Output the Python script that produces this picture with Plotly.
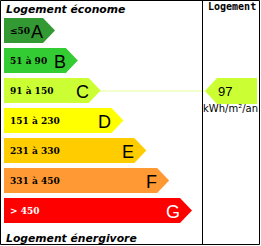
import plotly.graph_objects as go

# ---- data ----
classes = ["A", "B", "C", "D", "E", "F", "G"]
ranges = ["≤50", "51 à 90", "91 à 150", "151 à 230", "231 à 330", "331 à 450", "> 450"]
upper_bounds = [50, 90, 150, 230, 330, 450, None]
colors = ["#339933", "#33cc33", "#ccff33", "#ffff00", "#ffcc00", "#ff9933", "#ff0000"]
text_colors = ["black", "black", "black", "black", "black", "black", "white"]
value = 97
unit = "kWh/m²/an"
title_top = "Logement économe"
title_bottom = "Logement énergivore"
col_title = "Logement"

# ---- layout constants (pixels) ----
W, H = 261, 246
x_left = 4
y_top0 = 18
pitch = 30
bar_h = 25
tip0 = 55
tip_step = 22.83
tip_w = 12
divider_x = 202.5

# class of value
cls_idx = next(i for i, ub in enumerate(upper_bounds) if ub is None or value <= ub)

fig = go.Figure()

for i, (c, r, col, tc) in enumerate(zip(classes, ranges, colors, text_colors)):
    y0 = y_top0 + i * pitch
    y1 = y0 + bar_h
    ym = (y0 + y1) / 2
    tip = tip0 + i * tip_step
    xr = tip - tip_w
    fig.add_trace(go.Scatter(
        x=[x_left, xr, tip, xr, x_left, x_left],
        y=[y0, y0, ym, y1, y1, y0],
        fill="toself", fillcolor=col, line=dict(width=0, color=col),
        mode="lines", hoverinfo="skip", showlegend=False))
    fig.add_annotation(x=x_left + 4, y=ym, text="<b>%s</b>" % r, showarrow=False,
                       xanchor="left", yanchor="middle",
                       font=dict(family="DejaVu Serif", size=9, color=tc))
    fig.add_annotation(x=xr + 2, y=ym + 1, text=c, showarrow=False,
                       xanchor="right", yanchor="middle",
                       font=dict(family="Liberation Sans", size=18, color=tc))

# indicator arrow
iy0 = y_top0 + cls_idx * pitch
iy1 = iy0 + bar_h + 1
iym = (iy0 + iy1) / 2
itip = 205
ir = 257
fig.add_trace(go.Scatter(
    x=[itip, itip + tip_w, ir, ir, itip + tip_w, itip],
    y=[iym, iy0, iy0, iy1, iy1, iym],
    fill="toself", fillcolor=colors[cls_idx], line=dict(width=0, color=colors[cls_idx]),
    mode="lines", hoverinfo="skip", showlegend=False))
fig.add_annotation(x=225, y=iym, text=str(value), showarrow=False,
                   xanchor="center", yanchor="middle",
                   font=dict(family="Liberation Sans", size=13, color="black"))
fig.add_annotation(x=230.5, y=iy1 + 4.5, text=unit, showarrow=False,
                   xanchor="center", yanchor="middle",
                   font=dict(family="DejaVu Sans", size=10, color="black"))

# dotted connector
ctip = tip0 + cls_idx * tip_step
fig.add_trace(go.Scatter(x=[ctip, itip], y=[iym, iym], mode="lines",
                         line=dict(color=colors[cls_idx], width=1, dash="1px,1px"),
                         hoverinfo="skip", showlegend=False))

# titles
fig.add_annotation(x=4, y=9.5, text="<b><i>%s</i></b>" % title_top, showarrow=False,
                   xanchor="left", yanchor="middle",
                   font=dict(family="DejaVu Sans", size=10.8, color="black"))
fig.add_annotation(x=4, y=238, text="<b><i>%s</i></b>" % title_bottom, showarrow=False,
                   xanchor="left", yanchor="middle",
                   font=dict(family="DejaVu Sans", size=10.8, color="black"))
fig.add_annotation(x=232, y=6.5, text="<b>%s</b>" % col_title, showarrow=False,
                   xanchor="center", yanchor="middle",
                   font=dict(family="DejaVu Sans Mono", size=10, color="black"))

# frame and divider
fig.add_shape(type="rect", x0=0.5, y0=0.5, x1=W - 1.5, y1=H - 1.5,
              line=dict(color="black", width=1))
fig.add_shape(type="line", x0=divider_x, y0=0, x1=divider_x, y1=H - 1,
              line=dict(color="black", width=1))

fig.update_layout(
    width=W, height=H, margin=dict(l=0, r=0, t=0, b=0),
    paper_bgcolor="white", plot_bgcolor="white",
    xaxis=dict(range=[0, W], visible=False, fixedrange=True),
    yaxis=dict(range=[H, 0], visible=False, fixedrange=True),
)
fig.write_html("out.html", config={"displayModeBar": False})
